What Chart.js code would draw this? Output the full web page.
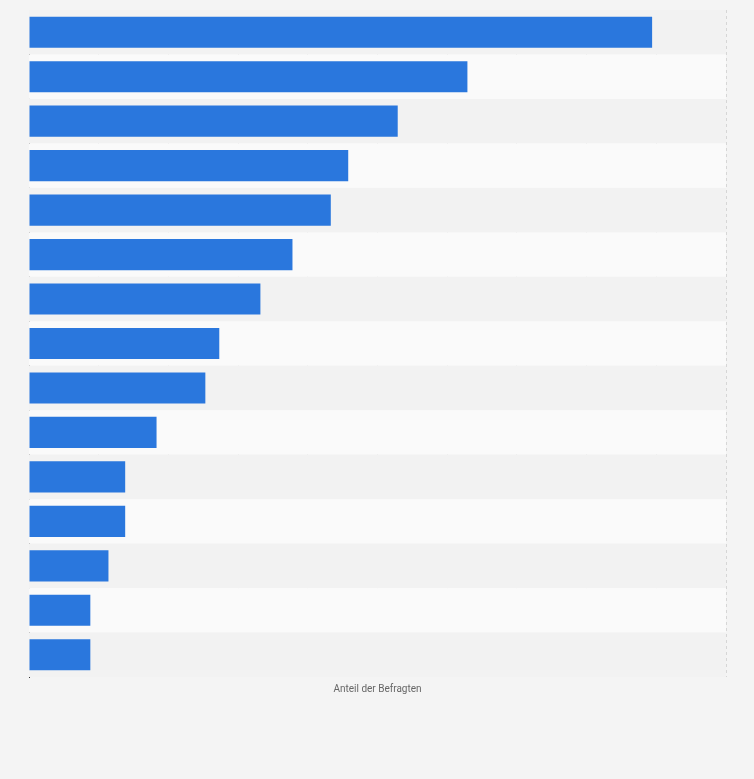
<!DOCTYPE html>
<html>
<head>
<meta charset="utf-8">
<script src="https://cdn.jsdelivr.net/npm/chart.js@4"></script>
<style>
  body { margin: 0; background: #f4f4f4; }
  #wrap { width: 754px; height: 779px; }
</style>
</head>
<body>
<div id="wrap"><canvas id="barChart"></canvas></div>
<script>
const categories = ["1", "2", "3", "4", "5", "6", "7", "8", "9", "10", "11", "12", "13", "14", "15"];
const shares = [89.4, 62.9, 52.9, 45.8, 43.3, 37.8, 33.2, 27.3, 25.3, 18.3, 13.8, 13.8, 11.4, 8.8, 8.8];

// alternating row stripes behind the bars
const rowStripes = {
  id: "rowStripes",
  beforeDatasetsDraw(chart) {
    const { ctx, chartArea, scales } = chart;
    const y = scales.y;
    const step = y.getPixelForValue(1) - y.getPixelForValue(0);
    ctx.save();
    categories.forEach((c, i) => {
      const mid = y.getPixelForValue(i);
      ctx.fillStyle = i % 2 === 0 ? "#f2f2f2" : "#fafafa";
      ctx.fillRect(chartArea.left, mid - step / 2, chartArea.right - chartArea.left, step);
    });
    ctx.restore();
  },
};

new Chart(document.getElementById("barChart").getContext("2d"), {
  type: "bar",
  data: {
    labels: categories,
    datasets: [
      {
        data: shares,
        backgroundColor: "#2a77dd",
        categoryPercentage: 1,
        barPercentage: 0.7,
      },
    ],
  },
  options: {
    indexAxis: "y",
    responsive: true,
    maintainAspectRatio: false,
    animation: false,
    layout: { padding: { left: 29, top: 10, right: 28, bottom: 80 } },
    plugins: { legend: { display: false }, tooltip: { enabled: false } },
    scales: {
      x: {
        min: 0,
        max: 100,
        ticks: { display: false, stepSize: 10 },
        grid: { color: "#d6d6d6", borderDash: [3, 3], drawTicks: false },
        border: { display: false, dash: [3, 3] },
        title: {
          display: true,
          text: "Anteil der Befragten",
          color: "#666",
          font: { family: "Roboto", size: 10 },
          padding: { top: 6 },
        },
      },
      y: {
        ticks: { display: false },
        grid: { display: false, drawTicks: false },
        border: { display: true, color: "#333", width: 1 },
      },
    },
  },
  plugins: [rowStripes],
});
</script>
</body>
</html>
